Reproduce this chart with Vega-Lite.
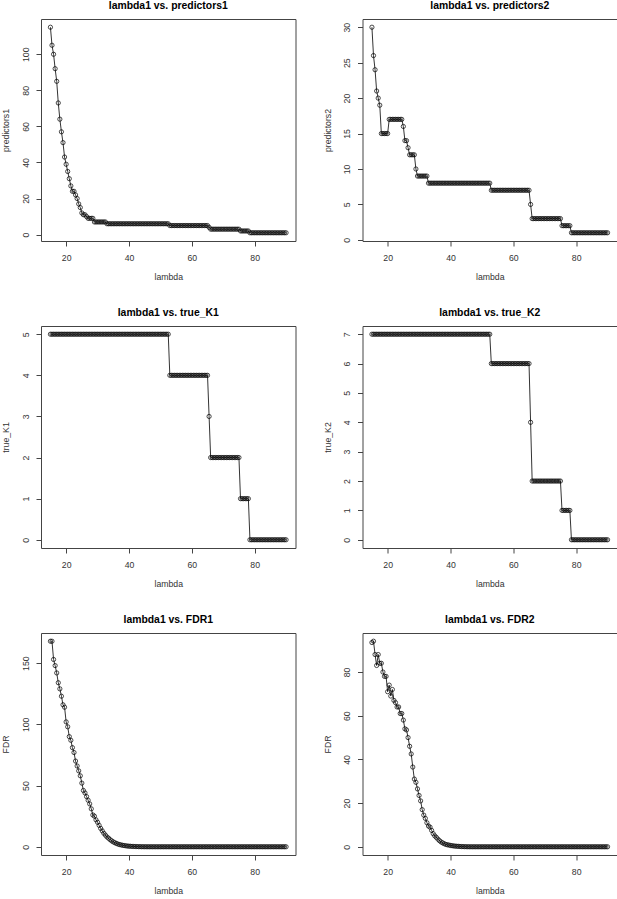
{
  "$schema": "https://vega.github.io/schema/vega-lite/v6.json",
  "background": "white",
  "padding": {"left": 1, "top": 0, "right": 0, "bottom": 0},
  "datasets": {
    "d": [
      {"lambda":15,"p1":115,"p2":30,"K1":5,"K2":7,"FDR1":167.9,"FDR2":93.5},
      {"lambda":15.5,"p1":105,"p2":26,"K1":5,"K2":7,"FDR1":167.9,"FDR2":94.1},
      {"lambda":16,"p1":100,"p2":24,"K1":5,"K2":7,"FDR1":153,"FDR2":88},
      {"lambda":16.5,"p1":92,"p2":21,"K1":5,"K2":7,"FDR1":148,"FDR2":83},
      {"lambda":17,"p1":85,"p2":20,"K1":5,"K2":7,"FDR1":142,"FDR2":88},
      {"lambda":17.5,"p1":73,"p2":19,"K1":5,"K2":7,"FDR1":134,"FDR2":84},
      {"lambda":18,"p1":64,"p2":15,"K1":5,"K2":7,"FDR1":129,"FDR2":84},
      {"lambda":18.5,"p1":57,"p2":15,"K1":5,"K2":7,"FDR1":123,"FDR2":80},
      {"lambda":19,"p1":51,"p2":15,"K1":5,"K2":7,"FDR1":116,"FDR2":78},
      {"lambda":19.5,"p1":43,"p2":15,"K1":5,"K2":7,"FDR1":114,"FDR2":78},
      {"lambda":20,"p1":39,"p2":15,"K1":5,"K2":7,"FDR1":102,"FDR2":71},
      {"lambda":20.5,"p1":35,"p2":17,"K1":5,"K2":7,"FDR1":98,"FDR2":74},
      {"lambda":21,"p1":31,"p2":17,"K1":5,"K2":7,"FDR1":90,"FDR2":69},
      {"lambda":21.5,"p1":27,"p2":17,"K1":5,"K2":7,"FDR1":87,"FDR2":72},
      {"lambda":22,"p1":24,"p2":17,"K1":5,"K2":7,"FDR1":81,"FDR2":67},
      {"lambda":22.5,"p1":24,"p2":17,"K1":5,"K2":7,"FDR1":77,"FDR2":66},
      {"lambda":23,"p1":22,"p2":17,"K1":5,"K2":7,"FDR1":70,"FDR2":64},
      {"lambda":23.5,"p1":20,"p2":17,"K1":5,"K2":7,"FDR1":66,"FDR2":64},
      {"lambda":24,"p1":17,"p2":17,"K1":5,"K2":7,"FDR1":62,"FDR2":61},
      {"lambda":24.5,"p1":15,"p2":17,"K1":5,"K2":7,"FDR1":58,"FDR2":61},
      {"lambda":25,"p1":12,"p2":16,"K1":5,"K2":7,"FDR1":52,"FDR2":58},
      {"lambda":25.5,"p1":11,"p2":14,"K1":5,"K2":7,"FDR1":46,"FDR2":54},
      {"lambda":26,"p1":11,"p2":14,"K1":5,"K2":7,"FDR1":44,"FDR2":53.5},
      {"lambda":26.5,"p1":10,"p2":13,"K1":5,"K2":7,"FDR1":41,"FDR2":50},
      {"lambda":27,"p1":9,"p2":12,"K1":5,"K2":7,"FDR1":38,"FDR2":46},
      {"lambda":27.5,"p1":9,"p2":12,"K1":5,"K2":7,"FDR1":35,"FDR2":42.5},
      {"lambda":28,"p1":9,"p2":12,"K1":5,"K2":7,"FDR1":31,"FDR2":36.5},
      {"lambda":28.5,"p1":9,"p2":12,"K1":5,"K2":7,"FDR1":26,"FDR2":31},
      {"lambda":29,"p1":7,"p2":10,"K1":5,"K2":7,"FDR1":25,"FDR2":29.5},
      {"lambda":29.5,"p1":7,"p2":9,"K1":5,"K2":7,"FDR1":22,"FDR2":26.5},
      {"lambda":30,"p1":7,"p2":9,"K1":5,"K2":7,"FDR1":20,"FDR2":23.5},
      {"lambda":30.5,"p1":7,"p2":9,"K1":5,"K2":7,"FDR1":17.5,"FDR2":21},
      {"lambda":31,"p1":7,"p2":9,"K1":5,"K2":7,"FDR1":15,"FDR2":17},
      {"lambda":31.5,"p1":7,"p2":9,"K1":5,"K2":7,"FDR1":13,"FDR2":14.5},
      {"lambda":32,"p1":7,"p2":9,"K1":5,"K2":7,"FDR1":11,"FDR2":13},
      {"lambda":32.5,"p1":7,"p2":9,"K1":5,"K2":7,"FDR1":9.5,"FDR2":11},
      {"lambda":33,"p1":6,"p2":8,"K1":5,"K2":7,"FDR1":8,"FDR2":9.5},
      {"lambda":33.5,"p1":6,"p2":8,"K1":5,"K2":7,"FDR1":7,"FDR2":9},
      {"lambda":34,"p1":6,"p2":8,"K1":5,"K2":7,"FDR1":5.8,"FDR2":7.5},
      {"lambda":34.5,"p1":6,"p2":8,"K1":5,"K2":7,"FDR1":4.8,"FDR2":6},
      {"lambda":35,"p1":6,"p2":8,"K1":5,"K2":7,"FDR1":4,"FDR2":5},
      {"lambda":35.5,"p1":6,"p2":8,"K1":5,"K2":7,"FDR1":3.3,"FDR2":4.3},
      {"lambda":36,"p1":6,"p2":8,"K1":5,"K2":7,"FDR1":2.7,"FDR2":3.5},
      {"lambda":36.5,"p1":6,"p2":8,"K1":5,"K2":7,"FDR1":2.2,"FDR2":2.8},
      {"lambda":37,"p1":6,"p2":8,"K1":5,"K2":7,"FDR1":1.8,"FDR2":2.2},
      {"lambda":37.5,"p1":6,"p2":8,"K1":5,"K2":7,"FDR1":1.5,"FDR2":1.8},
      {"lambda":38,"p1":6,"p2":8,"K1":5,"K2":7,"FDR1":1.2,"FDR2":1.4},
      {"lambda":38.5,"p1":6,"p2":8,"K1":5,"K2":7,"FDR1":1.0,"FDR2":1.1},
      {"lambda":39,"p1":6,"p2":8,"K1":5,"K2":7,"FDR1":0.8,"FDR2":0.9},
      {"lambda":39.5,"p1":6,"p2":8,"K1":5,"K2":7,"FDR1":0.6,"FDR2":0.8},
      {"lambda":40,"p1":6,"p2":8,"K1":5,"K2":7,"FDR1":0.5,"FDR2":0.6},
      {"lambda":40.5,"p1":6,"p2":8,"K1":5,"K2":7,"FDR1":0.4,"FDR2":0.5},
      {"lambda":41,"p1":6,"p2":8,"K1":5,"K2":7,"FDR1":0.3,"FDR2":0.4},
      {"lambda":41.5,"p1":6,"p2":8,"K1":5,"K2":7,"FDR1":0.25,"FDR2":0.3},
      {"lambda":42,"p1":6,"p2":8,"K1":5,"K2":7,"FDR1":0.2,"FDR2":0.25},
      {"lambda":42.5,"p1":6,"p2":8,"K1":5,"K2":7,"FDR1":0.15,"FDR2":0.2},
      {"lambda":43,"p1":6,"p2":8,"K1":5,"K2":7,"FDR1":0.1,"FDR2":0.15},
      {"lambda":43.5,"p1":6,"p2":8,"K1":5,"K2":7,"FDR1":0.08,"FDR2":0.1},
      {"lambda":44,"p1":6,"p2":8,"K1":5,"K2":7,"FDR1":0.05,"FDR2":0.08},
      {"lambda":44.5,"p1":6,"p2":8,"K1":5,"K2":7,"FDR1":0.03,"FDR2":0.05},
      {"lambda":45,"p1":6,"p2":8,"K1":5,"K2":7,"FDR1":0.02,"FDR2":0.03},
      {"lambda":45.5,"p1":6,"p2":8,"K1":5,"K2":7,"FDR1":0.01,"FDR2":0.02},
      {"lambda":46,"p1":6,"p2":8,"K1":5,"K2":7,"FDR1":0,"FDR2":0.01},
      {"lambda":46.5,"p1":6,"p2":8,"K1":5,"K2":7,"FDR1":0,"FDR2":0},
      {"lambda":47,"p1":6,"p2":8,"K1":5,"K2":7,"FDR1":0,"FDR2":0},
      {"lambda":47.5,"p1":6,"p2":8,"K1":5,"K2":7,"FDR1":0,"FDR2":0},
      {"lambda":48,"p1":6,"p2":8,"K1":5,"K2":7,"FDR1":0,"FDR2":0},
      {"lambda":48.5,"p1":6,"p2":8,"K1":5,"K2":7,"FDR1":0,"FDR2":0},
      {"lambda":49,"p1":6,"p2":8,"K1":5,"K2":7,"FDR1":0,"FDR2":0},
      {"lambda":49.5,"p1":6,"p2":8,"K1":5,"K2":7,"FDR1":0,"FDR2":0},
      {"lambda":50,"p1":6,"p2":8,"K1":5,"K2":7,"FDR1":0,"FDR2":0},
      {"lambda":50.5,"p1":6,"p2":8,"K1":5,"K2":7,"FDR1":0,"FDR2":0},
      {"lambda":51,"p1":6,"p2":8,"K1":5,"K2":7,"FDR1":0,"FDR2":0},
      {"lambda":51.5,"p1":6,"p2":8,"K1":5,"K2":7,"FDR1":0,"FDR2":0},
      {"lambda":52,"p1":6,"p2":8,"K1":5,"K2":7,"FDR1":0,"FDR2":0},
      {"lambda":52.5,"p1":6,"p2":8,"K1":5,"K2":7,"FDR1":0,"FDR2":0},
      {"lambda":53,"p1":5,"p2":7,"K1":4,"K2":6,"FDR1":0,"FDR2":0},
      {"lambda":53.5,"p1":5,"p2":7,"K1":4,"K2":6,"FDR1":0,"FDR2":0},
      {"lambda":54,"p1":5,"p2":7,"K1":4,"K2":6,"FDR1":0,"FDR2":0},
      {"lambda":54.5,"p1":5,"p2":7,"K1":4,"K2":6,"FDR1":0,"FDR2":0},
      {"lambda":55,"p1":5,"p2":7,"K1":4,"K2":6,"FDR1":0,"FDR2":0},
      {"lambda":55.5,"p1":5,"p2":7,"K1":4,"K2":6,"FDR1":0,"FDR2":0},
      {"lambda":56,"p1":5,"p2":7,"K1":4,"K2":6,"FDR1":0,"FDR2":0},
      {"lambda":56.5,"p1":5,"p2":7,"K1":4,"K2":6,"FDR1":0,"FDR2":0},
      {"lambda":57,"p1":5,"p2":7,"K1":4,"K2":6,"FDR1":0,"FDR2":0},
      {"lambda":57.5,"p1":5,"p2":7,"K1":4,"K2":6,"FDR1":0,"FDR2":0},
      {"lambda":58,"p1":5,"p2":7,"K1":4,"K2":6,"FDR1":0,"FDR2":0},
      {"lambda":58.5,"p1":5,"p2":7,"K1":4,"K2":6,"FDR1":0,"FDR2":0},
      {"lambda":59,"p1":5,"p2":7,"K1":4,"K2":6,"FDR1":0,"FDR2":0},
      {"lambda":59.5,"p1":5,"p2":7,"K1":4,"K2":6,"FDR1":0,"FDR2":0},
      {"lambda":60,"p1":5,"p2":7,"K1":4,"K2":6,"FDR1":0,"FDR2":0},
      {"lambda":60.5,"p1":5,"p2":7,"K1":4,"K2":6,"FDR1":0,"FDR2":0},
      {"lambda":61,"p1":5,"p2":7,"K1":4,"K2":6,"FDR1":0,"FDR2":0},
      {"lambda":61.5,"p1":5,"p2":7,"K1":4,"K2":6,"FDR1":0,"FDR2":0},
      {"lambda":62,"p1":5,"p2":7,"K1":4,"K2":6,"FDR1":0,"FDR2":0},
      {"lambda":62.5,"p1":5,"p2":7,"K1":4,"K2":6,"FDR1":0,"FDR2":0},
      {"lambda":63,"p1":5,"p2":7,"K1":4,"K2":6,"FDR1":0,"FDR2":0},
      {"lambda":63.5,"p1":5,"p2":7,"K1":4,"K2":6,"FDR1":0,"FDR2":0},
      {"lambda":64,"p1":5,"p2":7,"K1":4,"K2":6,"FDR1":0,"FDR2":0},
      {"lambda":64.5,"p1":5,"p2":7,"K1":4,"K2":6,"FDR1":0,"FDR2":0},
      {"lambda":65,"p1":5,"p2":7,"K1":4,"K2":6,"FDR1":0,"FDR2":0},
      {"lambda":65.5,"p1":4,"p2":5,"K1":3,"K2":4,"FDR1":0,"FDR2":0},
      {"lambda":66,"p1":3,"p2":3,"K1":2,"K2":2,"FDR1":0,"FDR2":0},
      {"lambda":66.5,"p1":3,"p2":3,"K1":2,"K2":2,"FDR1":0,"FDR2":0},
      {"lambda":67,"p1":3,"p2":3,"K1":2,"K2":2,"FDR1":0,"FDR2":0},
      {"lambda":67.5,"p1":3,"p2":3,"K1":2,"K2":2,"FDR1":0,"FDR2":0},
      {"lambda":68,"p1":3,"p2":3,"K1":2,"K2":2,"FDR1":0,"FDR2":0},
      {"lambda":68.5,"p1":3,"p2":3,"K1":2,"K2":2,"FDR1":0,"FDR2":0},
      {"lambda":69,"p1":3,"p2":3,"K1":2,"K2":2,"FDR1":0,"FDR2":0},
      {"lambda":69.5,"p1":3,"p2":3,"K1":2,"K2":2,"FDR1":0,"FDR2":0},
      {"lambda":70,"p1":3,"p2":3,"K1":2,"K2":2,"FDR1":0,"FDR2":0},
      {"lambda":70.5,"p1":3,"p2":3,"K1":2,"K2":2,"FDR1":0,"FDR2":0},
      {"lambda":71,"p1":3,"p2":3,"K1":2,"K2":2,"FDR1":0,"FDR2":0},
      {"lambda":71.5,"p1":3,"p2":3,"K1":2,"K2":2,"FDR1":0,"FDR2":0},
      {"lambda":72,"p1":3,"p2":3,"K1":2,"K2":2,"FDR1":0,"FDR2":0},
      {"lambda":72.5,"p1":3,"p2":3,"K1":2,"K2":2,"FDR1":0,"FDR2":0},
      {"lambda":73,"p1":3,"p2":3,"K1":2,"K2":2,"FDR1":0,"FDR2":0},
      {"lambda":73.5,"p1":3,"p2":3,"K1":2,"K2":2,"FDR1":0,"FDR2":0},
      {"lambda":74,"p1":3,"p2":3,"K1":2,"K2":2,"FDR1":0,"FDR2":0},
      {"lambda":74.5,"p1":3,"p2":3,"K1":2,"K2":2,"FDR1":0,"FDR2":0},
      {"lambda":75,"p1":3,"p2":3,"K1":2,"K2":2,"FDR1":0,"FDR2":0},
      {"lambda":75.5,"p1":2,"p2":2,"K1":1,"K2":1,"FDR1":0,"FDR2":0},
      {"lambda":76,"p1":2,"p2":2,"K1":1,"K2":1,"FDR1":0,"FDR2":0},
      {"lambda":76.5,"p1":2,"p2":2,"K1":1,"K2":1,"FDR1":0,"FDR2":0},
      {"lambda":77,"p1":2,"p2":2,"K1":1,"K2":1,"FDR1":0,"FDR2":0},
      {"lambda":77.5,"p1":2,"p2":2,"K1":1,"K2":1,"FDR1":0,"FDR2":0},
      {"lambda":78,"p1":2,"p2":2,"K1":1,"K2":1,"FDR1":0,"FDR2":0},
      {"lambda":78.5,"p1":1,"p2":1,"K1":0,"K2":0,"FDR1":0,"FDR2":0},
      {"lambda":79,"p1":1,"p2":1,"K1":0,"K2":0,"FDR1":0,"FDR2":0},
      {"lambda":79.5,"p1":1,"p2":1,"K1":0,"K2":0,"FDR1":0,"FDR2":0},
      {"lambda":80,"p1":1,"p2":1,"K1":0,"K2":0,"FDR1":0,"FDR2":0},
      {"lambda":80.5,"p1":1,"p2":1,"K1":0,"K2":0,"FDR1":0,"FDR2":0},
      {"lambda":81,"p1":1,"p2":1,"K1":0,"K2":0,"FDR1":0,"FDR2":0},
      {"lambda":81.5,"p1":1,"p2":1,"K1":0,"K2":0,"FDR1":0,"FDR2":0},
      {"lambda":82,"p1":1,"p2":1,"K1":0,"K2":0,"FDR1":0,"FDR2":0},
      {"lambda":82.5,"p1":1,"p2":1,"K1":0,"K2":0,"FDR1":0,"FDR2":0},
      {"lambda":83,"p1":1,"p2":1,"K1":0,"K2":0,"FDR1":0,"FDR2":0},
      {"lambda":83.5,"p1":1,"p2":1,"K1":0,"K2":0,"FDR1":0,"FDR2":0},
      {"lambda":84,"p1":1,"p2":1,"K1":0,"K2":0,"FDR1":0,"FDR2":0},
      {"lambda":84.5,"p1":1,"p2":1,"K1":0,"K2":0,"FDR1":0,"FDR2":0},
      {"lambda":85,"p1":1,"p2":1,"K1":0,"K2":0,"FDR1":0,"FDR2":0},
      {"lambda":85.5,"p1":1,"p2":1,"K1":0,"K2":0,"FDR1":0,"FDR2":0},
      {"lambda":86,"p1":1,"p2":1,"K1":0,"K2":0,"FDR1":0,"FDR2":0},
      {"lambda":86.5,"p1":1,"p2":1,"K1":0,"K2":0,"FDR1":0,"FDR2":0},
      {"lambda":87,"p1":1,"p2":1,"K1":0,"K2":0,"FDR1":0,"FDR2":0},
      {"lambda":87.5,"p1":1,"p2":1,"K1":0,"K2":0,"FDR1":0,"FDR2":0},
      {"lambda":88,"p1":1,"p2":1,"K1":0,"K2":0,"FDR1":0,"FDR2":0},
      {"lambda":88.5,"p1":1,"p2":1,"K1":0,"K2":0,"FDR1":0,"FDR2":0},
      {"lambda":89,"p1":1,"p2":1,"K1":0,"K2":0,"FDR1":0,"FDR2":0},
      {"lambda":89.5,"p1":1,"p2":1,"K1":0,"K2":0,"FDR1":0,"FDR2":0},
      {"lambda":90,"p1":1,"p2":1,"K1":0,"K2":0,"FDR1":0,"FDR2":0}
    ]
  },
  "data": {"name": "d"},
  "columns": 2,
  "spacing": {"row": 85, "column": 66.5},
  "bounds": "flush",
  "concat": [
    {
      "title": "lambda1 vs. predictors1",
      "width": 254.5, "height": 222,
      "encoding": {
        "x": {"field": "lambda", "type": "quantitative", "scale": {"domain": [12, 93], "nice": false, "zero": false}, "axis": {"values": [20, 40, 60, 80], "title": "lambda"}},
        "y": {"field": "p1", "type": "quantitative", "scale": {"domain": [-3.56, 119.56], "nice": false, "zero": false}, "axis": {"values": [0, 20, 40, 60, 80, 100], "title": "predictors1"}}
      },
      "layer": [
        {"mark": {"type": "line", "color": "#000", "strokeWidth": 0.8}, "encoding": {}},
        {"mark": {"type": "point", "shape": "circle", "size": 18, "filled": false, "stroke": "#000", "strokeWidth": 0.7, "opacity": 1}, "encoding": {}}
      ]
    },
    {
      "title": "lambda1 vs. predictors2",
      "width": 254.5, "height": 222,
      "encoding": {
        "x": {"field": "lambda", "type": "quantitative", "scale": {"domain": [12, 93], "nice": false, "zero": false}, "axis": {"values": [20, 40, 60, 80], "title": "lambda"}},
        "y": {"field": "p2", "type": "quantitative", "scale": {"domain": [-0.16, 31.16], "nice": false, "zero": false}, "axis": {"values": [0, 5, 10, 15, 20, 25, 30], "title": "predictors2"}}
      },
      "layer": [
        {"mark": {"type": "line", "color": "#000", "strokeWidth": 0.8}, "encoding": {}},
        {"mark": {"type": "point", "shape": "circle", "size": 18, "filled": false, "stroke": "#000", "strokeWidth": 0.7, "opacity": 1}, "encoding": {}}
      ]
    },
    {
      "title": "lambda1 vs. true_K1",
      "width": 254.5, "height": 222,
      "encoding": {
        "x": {"field": "lambda", "type": "quantitative", "scale": {"domain": [12, 93], "nice": false, "zero": false}, "axis": {"values": [20, 40, 60, 80], "title": "lambda"}},
        "y": {"field": "K1", "type": "quantitative", "scale": {"domain": [-0.2, 5.2], "nice": false, "zero": false}, "axis": {"values": [0, 1, 2, 3, 4, 5], "title": "true_K1"}}
      },
      "layer": [
        {"mark": {"type": "line", "color": "#000", "strokeWidth": 0.8}, "encoding": {}},
        {"mark": {"type": "point", "shape": "circle", "size": 18, "filled": false, "stroke": "#000", "strokeWidth": 0.7, "opacity": 1}, "encoding": {}}
      ]
    },
    {
      "title": "lambda1 vs. true_K2",
      "width": 254.5, "height": 222,
      "encoding": {
        "x": {"field": "lambda", "type": "quantitative", "scale": {"domain": [12, 93], "nice": false, "zero": false}, "axis": {"values": [20, 40, 60, 80], "title": "lambda"}},
        "y": {"field": "K2", "type": "quantitative", "scale": {"domain": [-0.28, 7.28], "nice": false, "zero": false}, "axis": {"values": [0, 1, 2, 3, 4, 5, 6, 7], "title": "true_K2"}}
      },
      "layer": [
        {"mark": {"type": "line", "color": "#000", "strokeWidth": 0.8}, "encoding": {}},
        {"mark": {"type": "point", "shape": "circle", "size": 18, "filled": false, "stroke": "#000", "strokeWidth": 0.7, "opacity": 1}, "encoding": {}}
      ]
    },
    {
      "title": "lambda1 vs. FDR1",
      "width": 254.5, "height": 222,
      "encoding": {
        "x": {"field": "lambda", "type": "quantitative", "scale": {"domain": [12, 93], "nice": false, "zero": false}, "axis": {"values": [20, 40, 60, 80], "title": "lambda"}},
        "y": {"field": "FDR1", "type": "quantitative", "scale": {"domain": [-6.72, 174.62], "nice": false, "zero": false}, "axis": {"values": [0, 50, 100, 150], "title": "FDR"}}
      },
      "layer": [
        {"mark": {"type": "line", "color": "#000", "strokeWidth": 0.8}, "encoding": {}},
        {"mark": {"type": "point", "shape": "circle", "size": 18, "filled": false, "stroke": "#000", "strokeWidth": 0.7, "opacity": 1}, "encoding": {}}
      ]
    },
    {
      "title": "lambda1 vs. FDR2",
      "width": 254.5, "height": 222,
      "encoding": {
        "x": {"field": "lambda", "type": "quantitative", "scale": {"domain": [12, 93], "nice": false, "zero": false}, "axis": {"values": [20, 40, 60, 80], "title": "lambda"}},
        "y": {"field": "FDR2", "type": "quantitative", "scale": {"domain": [-3.76, 97.86], "nice": false, "zero": false}, "axis": {"values": [0, 20, 40, 60, 80], "title": "FDR"}}
      },
      "layer": [
        {"mark": {"type": "line", "color": "#000", "strokeWidth": 0.8}, "encoding": {}},
        {"mark": {"type": "point", "shape": "circle", "size": 18, "filled": false, "stroke": "#000", "strokeWidth": 0.7, "opacity": 1}, "encoding": {}}
      ]
    }
  ],
  "config": {
    "font": "Liberation Sans",
    "view": {"stroke": "#444", "strokeWidth": 1},
    "axis": {
      "grid": false, "domain": false,
      "tickColor": "#444", "tickSize": 5, "tickWidth": 1,
      "labelFont": "Liberation Sans", "labelFontSize": 8.7, "labelColor": "#333",
      "titleFont": "Liberation Sans", "titleFontSize": 8.7, "titleFontWeight": "normal", "titleColor": "#333"
    },
    "axisX": {"labelPadding": 7, "titleY": 35, "titleBaseline": "middle"},
    "axisY": {"labelAngle": -90, "labelAlign": "center", "labelBaseline": "middle", "labelPadding": 11, "titleX": -35.5, "titleBaseline": "middle"},
    "title": {"font": "Liberation Sans", "fontSize": 10.4, "fontWeight": "bold", "color": "#000", "offset": 8, "anchor": "middle"}
  }
}
